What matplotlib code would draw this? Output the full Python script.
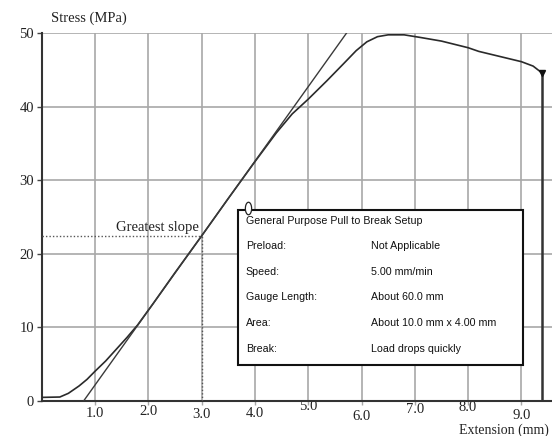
import matplotlib
matplotlib.use("Agg")
import matplotlib.pyplot as plt
from matplotlib.patches import Rectangle
from matplotlib.path import Path
from matplotlib.transforms import ScaledTranslation
import numpy as np

# ---- data ----
extension = [0.0, 0.34, 0.5, 0.7, 0.85, 1.0, 1.2, 1.4, 1.6, 1.8, 2.1, 2.5, 3.0,
             3.5, 4.0, 4.4, 4.7, 5.0, 5.35, 5.66, 5.9, 6.1, 6.3, 6.5, 6.8,
             7.1, 7.5, 8.0, 8.2, 8.6, 9.0, 9.22, 9.38]
stress = [0.45, 0.5, 1.0, 2.0, 2.9, 4.0, 5.4, 7.0, 8.6, 10.3, 13.3, 17.4, 22.4,
          27.5, 32.5, 36.4, 39.0, 41.0, 43.5, 45.8, 47.6, 48.8, 49.5, 49.75, 49.75,
          49.4, 48.9, 48.0, 47.5, 46.8, 46.1, 45.5, 44.6]
tangent_x = [0.79, 5.72]
tangent_y = [0.0, 50.0]
slope_x = 3.0
slope_y = 22.4
break_x = 9.38
break_y = 44.6
cursor_x = 3.876
cursor_y = 26.2
x_ticks = [1, 2, 3, 4, 5, 6, 7, 8, 9]
x_tick_labels = ["1.0", "2.0", "3.0", "4.0", "5.0", "6.0", "7.0", "8.0", "9.0"]
y_ticks = [0, 10, 20, 30, 40, 50]
y_tick_labels = ["0", "10", "20", "30", "40", "50"]
box_title = "General Purpose Pull to Break Setup"
box_keys = ["Preload:", "Speed:", "Gauge Length:", "Area:", "Break:"]
box_values = ["Not Applicable", "5.00 mm/min", "About 60.0 mm",
              "About 10.0 mm x 4.00 mm", "Load drops quickly"]

serif = ["Liberation Serif", "DejaVu Serif"]
sans = ["Liberation Sans", "DejaVu Sans"]

fig = plt.figure(figsize=(5.52, 4.36), dpi=100)
ax = fig.add_axes([41.7 / 552, 35.3 / 436, 510.3 / 552, 367.7 / 436])
ax.set_xlim(0, 9.574)
ax.set_ylim(0, 50)

grid_c = "#a8a8a8"
ax.set_xticks(x_ticks)
ax.set_xticklabels(x_tick_labels, family=serif, fontsize=10.5, color="#222222")
ax.set_yticks(y_ticks)
ax.set_yticklabels(y_tick_labels, family=serif, fontsize=10.5, color="#222222")
ax.grid(True, color=grid_c, lw=1.2)
ax.tick_params(axis="x", length=3, width=1, color=grid_c, pad=1.5)
ax.tick_params(axis="y", length=3.5, width=1, color="#444444", pad=2)
for s in ["top", "right"]:
    ax.spines[s].set_visible(False)
for s in ["left", "bottom"]:
    ax.spines[s].set_color("#333333")
    ax.spines[s].set_linewidth(1.5)
    ax.spines[s].set_zorder(3)

# curves
ax.plot(extension, stress, color="#2a2a2a", lw=1.2, zorder=4)
ax.plot(tangent_x, tangent_y, color="#3a3a3a", lw=1.0, zorder=4)
ax.plot([0, slope_x], [slope_y, slope_y], color="#555555", lw=1.0,
        ls=(0, (1, 1.5)), zorder=4)
ax.plot([slope_x, slope_x], [0, slope_y], color="#555555", lw=1.0,
        ls=(0, (1, 1.5)), zorder=4)
ax.text(2.955, slope_y + 1.2, "Greatest slope", family=serif, fontsize=10.5,
        ha="right", va="center", color="#222222", zorder=5)

# break line
ax.plot([break_x, break_x], [break_y, 0], color="#333333", lw=1.8, zorder=4)
ax.plot([break_x], [break_y], marker="v", ms=5, color="#111111", zorder=5)

# info box
ax.add_patch(Rectangle((0.384, 0.097), 0.559, 0.422, transform=ax.transAxes,
                       facecolor="white", edgecolor="#111111", lw=1.5,
                       zorder=6))
row_y = [0.4207, 0.350, 0.282, 0.2113, 0.1406]
ax.text(0.400, 0.4895, box_title, transform=ax.transAxes, family=sans,
        fontsize=7.7, va="center", ha="left", color="#111111", zorder=7)
for yy, k, v in zip(row_y, box_keys, box_values):
    ax.text(0.400, yy, k, transform=ax.transAxes, family=sans, fontsize=7.7,
            va="center", ha="left", color="#111111", zorder=7)
    ax.text(0.6457, yy, v, transform=ax.transAxes, family=sans, fontsize=7.7,
            va="center", ha="left", color="#111111", zorder=7)

# cursor marker (small capsule)
t = np.linspace(0, 2 * np.pi, 40)
capsule = Path(np.column_stack([0.5 * np.cos(t), np.sin(t)]))
ax.plot([cursor_x], [cursor_y], marker=capsule, ms=9, mfc="white",
        mec="#222222", mew=0.9, zorder=8, clip_on=False)

# axis titles
fig.text(51 / 552, 1 - 18 / 436, "Stress (MPa)", family=serif, fontsize=10.5,
         ha="left", va="center", color="#222222")
fig.text(549 / 552, 1 - 430.5 / 436, "Extension (mm)", family=serif, fontsize=10,
         ha="right", va="center", color="#222222")

fig.canvas.draw()
offsets_px = [0, -1.5, 1.5, 0, -7, 3.5, -4, -6, 2.5]
for lab, dy in zip(ax.get_xticklabels(), offsets_px):
    lab.set_transform(lab.get_transform() +
                      ScaledTranslation(0, -dy / 100, fig.dpi_scale_trans))

fig.savefig("out.png", dpi=100)
